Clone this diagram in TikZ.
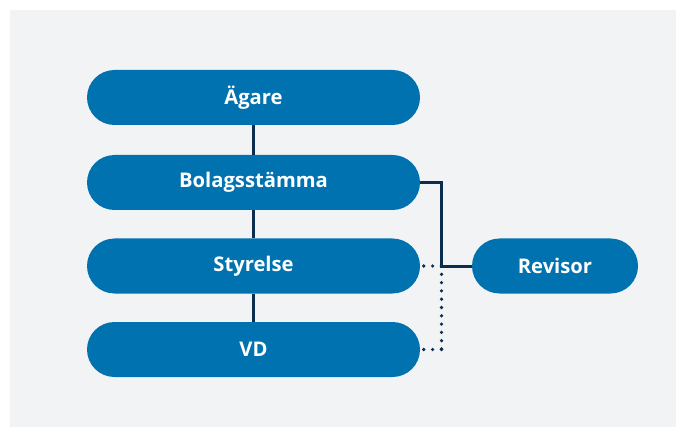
\documentclass[tikz,border=0pt]{standalone}
\usepackage{fontspec}
\setmainfont{Open Sans}
\definecolor{bgc}{HTML}{F2F3F5}
\definecolor{boxc}{HTML}{0072B0}
\definecolor{linec}{HTML}{0B2D4E}
\begin{document}
\begin{tikzpicture}[x=1pt,y=-1pt,
  orgbox/.style={fill=boxc, draw=none, rounded corners=27.5pt, minimum height=55pt, inner sep=0pt,
    text=white, font=\fontsize{20.2}{23}\selectfont\bfseries},
  conn/.style={draw=linec, line width=3pt},
  dotline/.style={draw=linec, line width=3.6pt, line cap=round, dash pattern=on 0pt off 8.3pt}]
\useasboundingbox (0,0) rectangle (676,427);
\fill[bgc] (10,10) rectangle (676,427);
\node[orgbox, minimum width=333pt] (ag) at (253.5,97.5) {Ägare};
\node[orgbox, minimum width=333pt] (bo) at (253.5,182.5) {Bolagsstämma};
\node[orgbox, minimum width=333pt] (st) at (253.5,266) {Styrelse};
\node[orgbox, minimum width=333pt] (vd) at (253.5,349.5) {VD};
\node[orgbox, minimum width=166pt] (re) at (555,266) {Revisor};
\coordinate (j1) at (441.5,182.5);
\coordinate (j2) at (441.5,266);
\coordinate (j3) at (441.5,349.5);
\draw[dotline, dash pattern=on 0pt off 8.9pt] ([xshift=3.5pt]st.east) -- (j2);
\draw[dotline] (j2) -- (j3);
\draw[dotline, dash pattern=on 0pt off 8.9pt] ([xshift=3.5pt]vd.east) -- (j3);
\draw[conn] (ag.south) -- (bo.north);
\draw[conn] (bo.south) -- (st.north);
\draw[conn] (st.south) -- (vd.north);
\draw[conn] (bo.east) -- (j1) -- (j2) -- (re.west);
\end{tikzpicture}
\end{document}
